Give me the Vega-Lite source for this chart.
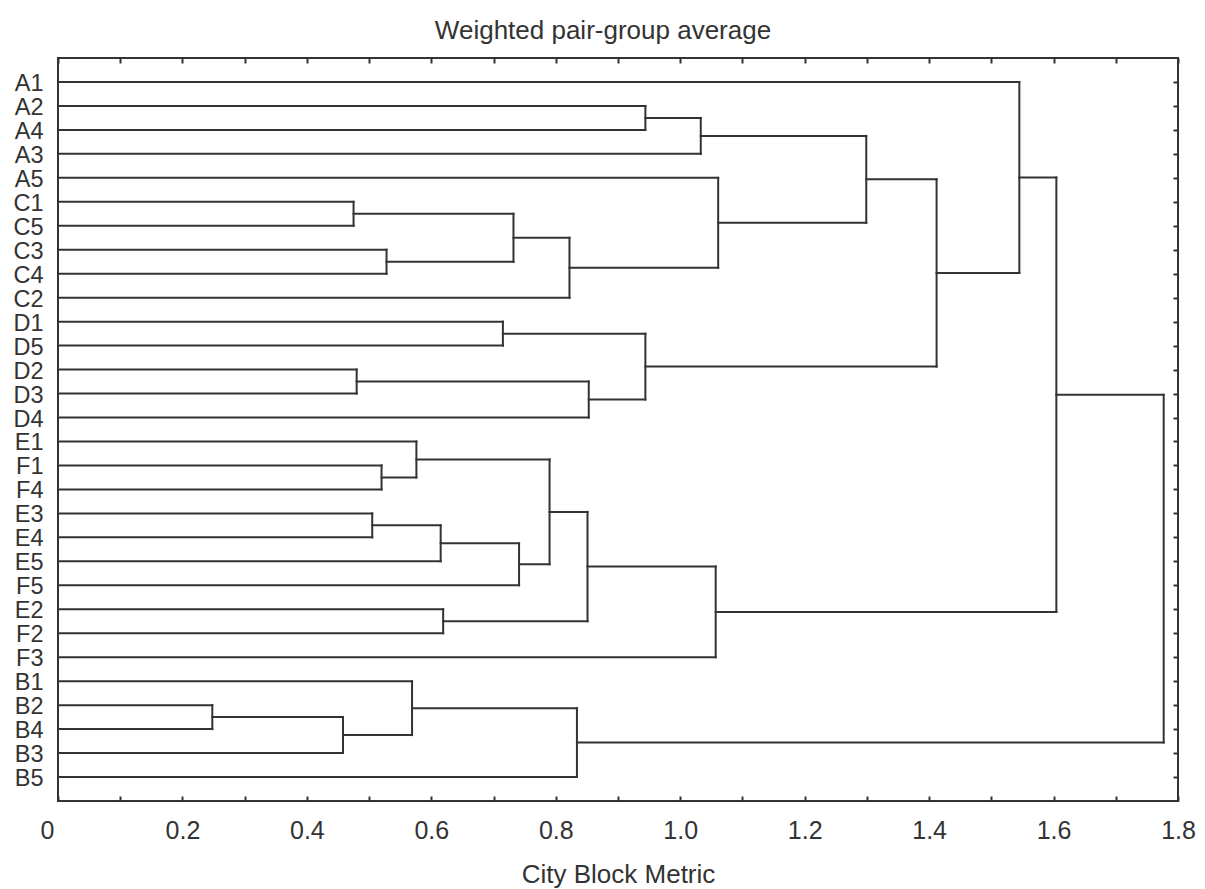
{
  "$schema": "https://vega.github.io/schema/vega-lite/v6.json",
  "width": 1120,
  "height": 743,
  "autosize": "none",
  "padding": {"left": 58, "top": 58, "right": 27, "bottom": 88},
  "background": "white",
  "config": {
    "font": "Arial, Liberation Sans, sans-serif",
    "view": {"stroke": "#333", "strokeWidth": 2}
  },
  "title": {
    "text": "Weighted pair-group average",
    "fontSize": 26,
    "fontWeight": "normal",
    "color": "#333",
    "offset": -8,
    "baseline": "alphabetic",
    "dx": -15
  },
  "data": {
    "values": [
      {"x": 0.944, "x2": 0.944, "y": 2, "y2": 3},
      {"x": 0, "x2": 0.944, "y": 2, "y2": 2},
      {"x": 0, "x2": 0.944, "y": 3, "y2": 3},
      {"x": 1.033, "x2": 1.033, "y": 2.5, "y2": 4},
      {"x": 0.944, "x2": 1.033, "y": 2.5, "y2": 2.5},
      {"x": 0, "x2": 1.033, "y": 4, "y2": 4},
      {"x": 0.475, "x2": 0.475, "y": 6, "y2": 7},
      {"x": 0, "x2": 0.475, "y": 6, "y2": 6},
      {"x": 0, "x2": 0.475, "y": 7, "y2": 7},
      {"x": 0.528, "x2": 0.528, "y": 8, "y2": 9},
      {"x": 0, "x2": 0.528, "y": 8, "y2": 8},
      {"x": 0, "x2": 0.528, "y": 9, "y2": 9},
      {"x": 0.732, "x2": 0.732, "y": 6.5, "y2": 8.5},
      {"x": 0.475, "x2": 0.732, "y": 6.5, "y2": 6.5},
      {"x": 0.528, "x2": 0.732, "y": 8.5, "y2": 8.5},
      {"x": 0.822, "x2": 0.822, "y": 7.5, "y2": 10},
      {"x": 0.732, "x2": 0.822, "y": 7.5, "y2": 7.5},
      {"x": 0, "x2": 0.822, "y": 10, "y2": 10},
      {"x": 1.061, "x2": 1.061, "y": 5, "y2": 8.75},
      {"x": 0, "x2": 1.061, "y": 5, "y2": 5},
      {"x": 0.822, "x2": 1.061, "y": 8.75, "y2": 8.75},
      {"x": 1.299, "x2": 1.299, "y": 3.25, "y2": 6.875},
      {"x": 1.033, "x2": 1.299, "y": 3.25, "y2": 3.25},
      {"x": 1.061, "x2": 1.299, "y": 6.875, "y2": 6.875},
      {"x": 0.715, "x2": 0.715, "y": 11, "y2": 12},
      {"x": 0, "x2": 0.715, "y": 11, "y2": 11},
      {"x": 0, "x2": 0.715, "y": 12, "y2": 12},
      {"x": 0.48, "x2": 0.48, "y": 13, "y2": 14},
      {"x": 0, "x2": 0.48, "y": 13, "y2": 13},
      {"x": 0, "x2": 0.48, "y": 14, "y2": 14},
      {"x": 0.853, "x2": 0.853, "y": 13.5, "y2": 15},
      {"x": 0.48, "x2": 0.853, "y": 13.5, "y2": 13.5},
      {"x": 0, "x2": 0.853, "y": 15, "y2": 15},
      {"x": 0.944, "x2": 0.944, "y": 11.5, "y2": 14.25},
      {"x": 0.715, "x2": 0.944, "y": 11.5, "y2": 11.5},
      {"x": 0.853, "x2": 0.944, "y": 14.25, "y2": 14.25},
      {"x": 1.412, "x2": 1.412, "y": 5.0625, "y2": 12.875},
      {"x": 1.299, "x2": 1.412, "y": 5.0625, "y2": 5.0625},
      {"x": 0.944, "x2": 1.412, "y": 12.875, "y2": 12.875},
      {"x": 1.545, "x2": 1.545, "y": 1, "y2": 8.96875},
      {"x": 0, "x2": 1.545, "y": 1, "y2": 1},
      {"x": 1.412, "x2": 1.545, "y": 8.96875, "y2": 8.96875},
      {"x": 0.52, "x2": 0.52, "y": 17, "y2": 18},
      {"x": 0, "x2": 0.52, "y": 17, "y2": 17},
      {"x": 0, "x2": 0.52, "y": 18, "y2": 18},
      {"x": 0.576, "x2": 0.576, "y": 16, "y2": 17.5},
      {"x": 0, "x2": 0.576, "y": 16, "y2": 16},
      {"x": 0.52, "x2": 0.576, "y": 17.5, "y2": 17.5},
      {"x": 0.505, "x2": 0.505, "y": 19, "y2": 20},
      {"x": 0, "x2": 0.505, "y": 19, "y2": 19},
      {"x": 0, "x2": 0.505, "y": 20, "y2": 20},
      {"x": 0.615, "x2": 0.615, "y": 19.5, "y2": 21},
      {"x": 0.505, "x2": 0.615, "y": 19.5, "y2": 19.5},
      {"x": 0, "x2": 0.615, "y": 21, "y2": 21},
      {"x": 0.741, "x2": 0.741, "y": 20.25, "y2": 22},
      {"x": 0.615, "x2": 0.741, "y": 20.25, "y2": 20.25},
      {"x": 0, "x2": 0.741, "y": 22, "y2": 22},
      {"x": 0.79, "x2": 0.79, "y": 16.75, "y2": 21.125},
      {"x": 0.576, "x2": 0.79, "y": 16.75, "y2": 16.75},
      {"x": 0.741, "x2": 0.79, "y": 21.125, "y2": 21.125},
      {"x": 0.619, "x2": 0.619, "y": 23, "y2": 24},
      {"x": 0, "x2": 0.619, "y": 23, "y2": 23},
      {"x": 0, "x2": 0.619, "y": 24, "y2": 24},
      {"x": 0.851, "x2": 0.851, "y": 18.9375, "y2": 23.5},
      {"x": 0.79, "x2": 0.851, "y": 18.9375, "y2": 18.9375},
      {"x": 0.619, "x2": 0.851, "y": 23.5, "y2": 23.5},
      {"x": 1.057, "x2": 1.057, "y": 21.21875, "y2": 25},
      {"x": 0.851, "x2": 1.057, "y": 21.21875, "y2": 21.21875},
      {"x": 0, "x2": 1.057, "y": 25, "y2": 25},
      {"x": 0.248, "x2": 0.248, "y": 27, "y2": 28},
      {"x": 0, "x2": 0.248, "y": 27, "y2": 27},
      {"x": 0, "x2": 0.248, "y": 28, "y2": 28},
      {"x": 0.458, "x2": 0.458, "y": 27.5, "y2": 29},
      {"x": 0.248, "x2": 0.458, "y": 27.5, "y2": 27.5},
      {"x": 0, "x2": 0.458, "y": 29, "y2": 29},
      {"x": 0.569, "x2": 0.569, "y": 26, "y2": 28.25},
      {"x": 0, "x2": 0.569, "y": 26, "y2": 26},
      {"x": 0.458, "x2": 0.569, "y": 28.25, "y2": 28.25},
      {"x": 0.834, "x2": 0.834, "y": 27.125, "y2": 30},
      {"x": 0.569, "x2": 0.834, "y": 27.125, "y2": 27.125},
      {"x": 0, "x2": 0.834, "y": 30, "y2": 30},
      {"x": 1.6045, "x2": 1.6045, "y": 4.984375, "y2": 23.109375},
      {"x": 1.545, "x2": 1.6045, "y": 4.984375, "y2": 4.984375},
      {"x": 1.057, "x2": 1.6045, "y": 23.109375, "y2": 23.109375},
      {"x": 1.777, "x2": 1.777, "y": 14.046875, "y2": 28.5625},
      {"x": 1.6045, "x2": 1.777, "y": 14.046875, "y2": 14.046875},
      {"x": 0.834, "x2": 1.777, "y": 28.5625, "y2": 28.5625}
    ]
  },
  "layer": [
    {
      "mark": {"type": "rule", "color": "#333", "strokeWidth": 2, "strokeCap": "square"},
      "encoding": {
        "x": {
          "field": "x",
          "type": "quantitative",
          "scale": {"domain": [0, 1.8], "nice": false, "zero": false},
          "axis": {
            "orient": "bottom",
            "values": [0, 0.1, 0.2, 0.3, 0.4, 0.5, 0.6, 0.7, 0.8, 0.9, 1.0, 1.1, 1.2, 1.3, 1.4, 1.5, 1.6, 1.7, 1.8],
            "labelExpr": "round(datum.value * 10) % 2 == 0 ? (datum.value == 0 ? '0' : format(datum.value, '.1f')) : ''",
            "tickSize": -5,
            "tickWidth": 2,
            "tickColor": "#333",
            "domain": false,
            "grid": false,
            "labelFontSize": 25,
            "labelColor": "#333",
            "labelBaseline": "alphabetic",
            "labelPadding": 42,
            "labelFlush": false,
            "labelOverlap": false,
            "labelBound": false,
            "labelOffset": {"condition": {"test": "datum.value == 0", "value": -11}, "value": 0},
            "title": "City Block Metric",
            "titleFontSize": 26,
            "titleFontWeight": "normal",
            "titleColor": "#333",
            "titleBaseline": "alphabetic",
            "titleY": 81
          }
        },
        "x2": {"field": "x2"},
        "y": {
          "field": "y",
          "type": "quantitative",
          "scale": {"domain": [0, 31], "reverse": true, "nice": false, "zero": false},
          "axis": {
            "orient": "left",
            "values": [1, 2, 3, 4, 5, 6, 7, 8, 9, 10, 11, 12, 13, 14, 15, 16, 17, 18, 19, 20, 21, 22, 23, 24, 25, 26, 27, 28, 29, 30],
            "labelExpr": "['A1','A2','A4','A3','A5','C1','C5','C3','C4','C2','D1','D5','D2','D3','D4','E1','F1','F4','E3','E4','E5','F5','E2','F2','F3','B1','B2','B4','B3','B5'][datum.value - 1]",
            "ticks": false,
            "domain": false,
            "grid": false,
            "labelFontSize": 23.5,
            "labelColor": "#333",
            "labelBaseline": "alphabetic",
            "labelOffset": 8.5,
            "labelPadding": 15,
            "labelOverlap": false,
            "labelFlush": false,
            "labelBound": false,
            "title": null
          }
        },
        "y2": {"field": "y2"}
      }
    },
    {
      "mark": {"type": "point", "opacity": 0},
      "encoding": {
        "x": {
          "field": "x",
          "type": "quantitative",
          "axis": {
            "orient": "top",
            "values": [0, 0.1, 0.2, 0.3, 0.4, 0.5, 0.6, 0.7, 0.8, 0.9, 1.0, 1.1, 1.2, 1.3, 1.4, 1.5, 1.6, 1.7, 1.8],
            "labels": false,
            "tickSize": -5,
            "tickWidth": 2,
            "tickColor": "#333",
            "domain": false,
            "grid": false,
            "title": null
          }
        },
        "y": {
          "field": "y",
          "type": "quantitative",
          "axis": {
            "orient": "right",
            "values": [1, 2, 3, 4, 5, 6, 7, 8, 9, 10, 11, 12, 13, 14, 15, 16, 17, 18, 19, 20, 21, 22, 23, 24, 25, 26, 27, 28, 29, 30],
            "labels": false,
            "tickSize": -5,
            "tickWidth": 2,
            "tickColor": "#333",
            "domain": false,
            "grid": false,
            "title": null
          }
        }
      }
    }
  ],
  "resolve": {"axis": {"x": "independent", "y": "independent"}}
}
